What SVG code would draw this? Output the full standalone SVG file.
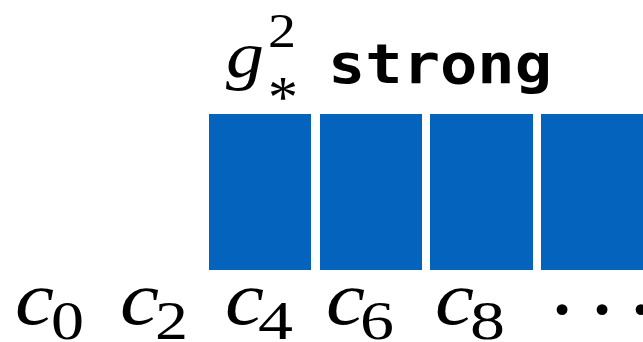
<svg xmlns="http://www.w3.org/2000/svg" width="643" height="342" viewBox="0 0 643 342">
<style>
.bar{fill:#0463bd}
.mi{font-family:"Liberation Serif","Times New Roman",serif;font-style:italic;fill:#000}
.mn{font-family:"Liberation Serif","Times New Roman",serif;fill:#000}
.c{font-size:76px}
.sub{font-size:54px}
.hand{font-family:"DejaVu Sans Mono",monospace;font-weight:bold;fill:#000}
</style>
<rect width="643" height="342" fill="#fff"/>
<g id="bars">
<rect id="bar1" class="bar" x="209" y="114" width="102" height="156"/>
<rect id="bar2" class="bar" x="320" y="114" width="102" height="156"/>
<rect id="bar3" class="bar" x="430" y="114" width="103" height="156"/>
<rect id="bar4" class="bar" x="541" y="114" width="102" height="156"/>
</g>
<g id="title">
<text class="mi" x="226" y="77" font-size="66" textLength="38" lengthAdjust="spacingAndGlyphs">g</text>
<text class="mn" x="268" y="47" font-size="48" textLength="28" lengthAdjust="spacingAndGlyphs">2</text>
<text class="mn" x="268" y="117" font-size="60">*</text>
<text class="hand" x="328" y="83" font-size="56" textLength="224" lengthAdjust="spacingAndGlyphs">strong</text>
</g>
<g id="labels">
<text class="mi c" x="15" y="324" textLength="39" lengthAdjust="spacingAndGlyphs">c</text><text class="mn sub" x="51" y="339" textLength="33" lengthAdjust="spacingAndGlyphs">0</text>
<text class="mi c" x="120" y="324" textLength="39" lengthAdjust="spacingAndGlyphs">c</text><text class="mn sub" x="155" y="339" textLength="33" lengthAdjust="spacingAndGlyphs">2</text>
<text class="mi c" x="225" y="324" textLength="39" lengthAdjust="spacingAndGlyphs">c</text><text class="mn sub" x="258" y="339" textLength="35" lengthAdjust="spacingAndGlyphs">4</text>
<text class="mi c" x="326" y="324" textLength="39" lengthAdjust="spacingAndGlyphs">c</text><text class="mn sub" x="360" y="339" textLength="34" lengthAdjust="spacingAndGlyphs">6</text>
<text class="mi c" x="435" y="324" textLength="39" lengthAdjust="spacingAndGlyphs">c</text><text class="mn sub" x="470" y="339" textLength="35" lengthAdjust="spacingAndGlyphs">8</text>
<text class="mn" y="340" font-size="92" text-anchor="middle"><tspan x="562">·</tspan><tspan x="602">·</tspan><tspan x="641">·</tspan></text>
</g>
<g id="connectors"/>
</svg>
